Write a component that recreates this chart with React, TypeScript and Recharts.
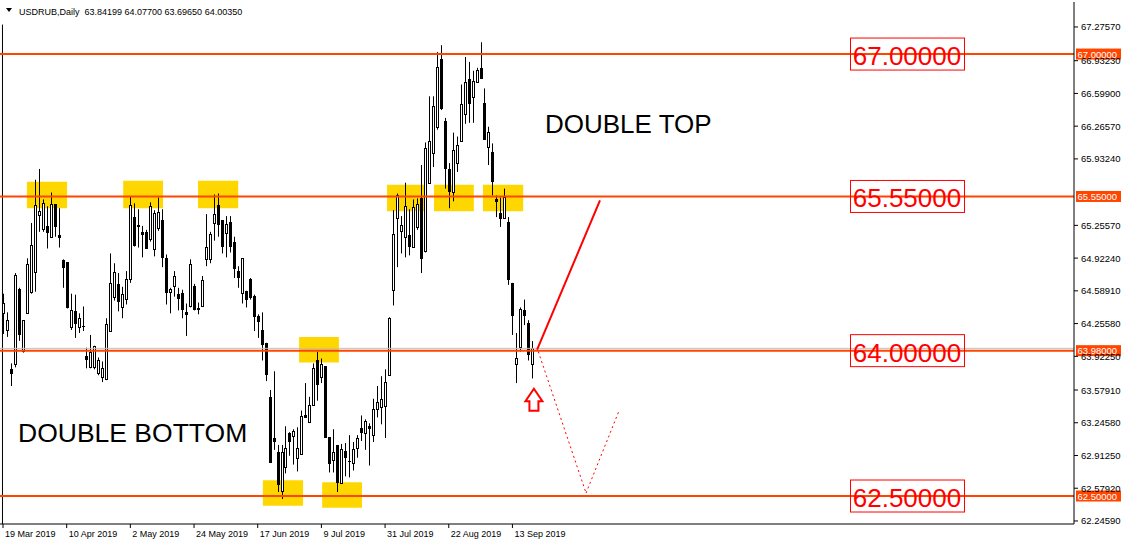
import React from 'react';
import { ComposedChart, Bar, XAxis, YAxis, ReferenceLine, ReferenceArea, ReferenceDot } from 'recharts';

// daily candles USDRUB
const opens = [
  64.36, 64.19, 63.79, 63.84, 64.61, 63.98, 64.36, 64.58, 64.78, 65.36,
  65.22, 65.25, 65.14, 65.47, 65.16, 64.90, 64.88, 64.22, 64.38, 64.22,
  64.23, 63.93, 63.81, 63.81, 63.75, 63.71, 63.69, 64.18, 64.53, 64.66,
  64.42, 64.51, 64.71, 65.34, 65.26, 65.19, 65.19, 65.12, 65.01, 65.23,
  65.31, 64.92, 64.58, 64.64, 64.56, 64.57, 64.37, 64.43, 64.64, 64.41,
  64.43, 64.91, 64.91, 65.28, 65.46, 65.31, 65.18, 65.29, 65.09, 64.79,
  64.57, 64.59, 64.71, 64.54, 64.33, 64.19, 64.06, 63.51, 63.09, 62.95,
  62.55, 62.80, 63.14, 63.11, 62.89, 62.93, 63.32, 63.25, 63.43, 63.88,
  63.71, 63.82, 63.10, 62.87, 63.02, 62.63, 62.96, 62.86, 62.84, 62.99,
  63.19, 63.14, 63.21, 63.12, 63.39, 63.41, 63.42, 63.73, 64.60, 65.33,
  65.20, 65.14, 65.16, 65.04, 65.24, 65.53, 64.99, 65.69, 65.99, 66.26,
  66.95, 66.32, 65.83, 65.60, 65.89, 66.11, 66.39, 66.75, 66.56, 66.72,
  66.86, 66.50, 66.05, 66.00, 65.52, 65.38, 65.33, 65.29, 64.67, 63.84,
  64.02, 64.39, 64.26, 63.842,
];
const highs = [
  64.56, 64.37, 63.85, 64.77, 64.62, 64.29, 64.92, 65.28, 65.72, 65.83,
  65.52, 65.45, 65.59, 65.47, 65.43, 64.91, 64.88, 64.56, 64.55, 64.36,
  64.43, 64.01, 64.14, 64.03, 63.91, 63.87, 64.31, 64.97, 64.87, 64.77,
  64.63, 64.79, 65.55, 65.48, 65.42, 65.25, 65.21, 65.49, 65.41, 65.54,
  65.42, 64.96, 64.62, 64.79, 64.62, 64.60, 64.46, 64.91, 64.66, 64.47,
  64.74, 65.37, 65.19, 65.57, 65.58, 65.31, 65.35, 65.35, 65.14, 64.84,
  64.92, 64.59, 64.72, 64.55, 64.35, 64.37, 64.06, 63.58, 63.77, 63.02,
  63.02, 63.21, 63.15, 63.18, 63.20, 63.37, 63.65, 63.51, 63.85, 63.97,
  63.90, 63.82, 63.10, 63.18, 63.02, 63.03, 63.04, 63.12, 63.05, 63.12,
  63.32, 63.28, 63.24, 63.49, 63.62, 63.72, 63.79, 64.32, 65.41, 65.58,
  65.35, 65.69, 65.42, 65.52, 65.53, 65.87, 66.10, 66.57, 66.57, 67.02,
  67.09, 66.35, 65.89, 66.20, 66.16, 66.69, 66.97, 66.92, 66.83, 66.86,
  67.12, 66.65, 66.26, 66.09, 65.56, 65.54, 65.63, 65.34, 64.67, 64.16,
  64.42, 64.50, 64.29, 64.077,
];
const lows = [
  64.15, 64.12, 63.62, 63.81, 64.08, 63.96, 64.36, 64.56, 64.58, 65.19,
  65.19, 65.02, 65.13, 65.14, 65.03, 64.62, 64.41, 64.19, 64.11, 64.16,
  64.18, 63.80, 63.80, 63.79, 63.73, 63.66, 63.68, 64.18, 64.49, 64.38,
  64.31, 64.45, 64.67, 65.04, 65.03, 64.93, 65.02, 65.09, 64.94, 65.20,
  64.83, 64.45, 64.36, 64.53, 64.39, 64.31, 64.13, 64.42, 64.39, 64.35,
  64.43, 64.84, 64.87, 65.10, 65.14, 64.97, 64.93, 64.98, 64.72, 64.62,
  64.46, 64.42, 64.50, 64.18, 64.11, 63.88, 63.67, 62.84, 62.97, 62.54,
  62.47, 62.73, 62.91, 62.82, 62.75, 62.93, 63.30, 63.25, 63.43, 63.47,
  63.65, 63.10, 62.74, 62.74, 62.54, 62.63, 62.70, 62.69, 62.76, 62.89,
  63.06, 62.97, 62.81, 63.05, 63.30, 63.23, 63.09, 63.73, 64.44, 64.83,
  64.97, 64.93, 64.95, 65.03, 65.21, 64.77, 64.98, 65.69, 65.85, 66.23,
  66.43, 65.63, 65.43, 65.50, 65.80, 66.11, 66.29, 66.30, 66.30, 66.72,
  66.76, 66.14, 65.87, 65.56, 65.34, 65.24, 65.33, 64.65, 64.14, 63.65,
  63.97, 64.24, 63.88, 63.697,
];
const closes = [
  64.47, 64.29, 63.75, 64.75, 64.15, 64.29, 64.86, 65.06, 65.46, 65.40,
  65.48, 65.19, 65.47, 65.25, 65.14, 64.83, 64.42, 64.39, 64.26, 64.31,
  64.23, 63.89, 63.97, 64.03, 63.88, 63.80, 64.25, 64.67, 64.78, 64.49,
  64.56, 64.71, 65.46, 65.06, 65.25, 65.17, 65.03, 65.45, 65.38, 65.39,
  64.93, 64.58, 64.61, 64.74, 64.52, 64.40, 64.35, 64.86, 64.40, 64.40,
  64.70, 65.04, 65.17, 65.37, 65.27, 65.05, 65.27, 65.05, 64.82, 64.73,
  64.92, 64.51, 64.53, 64.33, 64.28, 64.05, 63.74, 62.85, 63.06, 62.62,
  62.95, 62.99, 63.06, 63.16, 62.99, 63.31, 63.30, 63.43, 63.80, 63.64,
  63.84, 63.10, 62.84, 62.95, 62.64, 62.98, 62.90, 62.86, 62.98, 63.09,
  63.15, 63.26, 63.19, 63.39, 63.46, 63.49, 63.66, 64.31, 65.17, 65.56,
  65.26, 65.45, 65.05, 65.44, 65.47, 64.92, 66.04, 66.11, 66.47, 66.87,
  66.45, 65.84, 65.61, 66.02, 66.07, 66.49, 66.72, 66.50, 66.73, 66.84,
  66.76, 66.14, 66.21, 65.71, 65.50, 65.33, 65.54, 64.71, 64.34, 63.91,
  64.40, 64.34, 63.95, 64.0035,
];

const dateTicks = [0, 16, 32, 48, 64, 80, 96, 112, 128];
const dateLabels = ['19 Mar 2019', '10 Apr 2019', '2 May 2019', '24 May 2019', '17 Jun 2019', '9 Jul 2019', '31 Jul 2019', '22 Aug 2019', '13 Sep 2019'];
const priceTicks = [67.2757, 66.9323, 66.599, 66.2657, 65.9324, 65.2557, 64.9224, 64.5891, 64.2558, 63.9225, 63.5791, 63.2458, 62.9125, 62.5792, 62.2459];

// horizontal levels: line value, axis tag, big label
const levels = [
  { y: 67.0, tag: '67.00000', big: '67.00000' },
  { y: 65.55, tag: '65.55000', big: '65.55000' },
  { y: 63.98, tag: '63.98000', big: '64.00000' },
  { y: 62.5, tag: '62.50000', big: '62.50000' },
];

// highlighted zones [x1, x2, y1, y2]
const zones = [
  [6.0, 16.1, 65.43, 65.70],
  [30.2, 40.2, 65.43, 65.71],
  [49.0, 59.1, 65.43, 65.71],
  [96.5, 106.5, 65.40, 65.67],
  [108.3, 118.3, 65.40, 65.67],
  [120.6, 130.7, 65.40, 65.67],
  [74.4, 84.4, 63.86, 64.12],
  [65.3, 75.4, 62.40, 62.66],
  [80.2, 90.2, 62.38, 62.64],
];

const trendUp = [{ x: 134.2, y: 63.99 }, { x: 150, y: 65.51 }];
const pathDown = [{ x: 134.5, y: 63.97 }, { x: 146.5, y: 62.53 }, { x: 154.9, y: 63.38 }];

const data = opens.map((o, i) => ({ i, o, h: highs[i], l: lows[i], c: closes[i], range: [lows[i], highs[i]] }));

const FONT = '"Liberation Sans", Arial, sans-serif';

const Candle = (props: any) => {
  const { x, y, width, height, payload } = props;
  if (!payload || height == null) return <g />;
  const { o, h, l, c } = payload;
  const k = h > l ? height / (h - l) : 0;
  const py = (p: number) => y + (h - p) * k;
  const cx = Math.round(x + width / 2);
  const top = Math.round(py(Math.max(o, c)));
  const bot = Math.round(py(Math.min(o, c)));
  const up = c >= o;
  return (
    <g>
      <line x1={cx + 0.5} x2={cx + 0.5} y1={y} y2={y + height} stroke="#000" strokeWidth={1} />
      {bot - top < 1 ? (
        <line x1={cx - 1} x2={cx + 2} y1={top + 0.5} y2={top + 0.5} stroke="#000" strokeWidth={1} />
      ) : (
        <rect x={cx - 0.5} y={top + 0.5} width={2} height={bot - top} fill={up ? '#fff' : '#000'} stroke="#000" strokeWidth={1} />
      )}
    </g>
  );
};

const DateTick = (props: any) => {
  const { x, y, payload } = props;
  const idx = dateTicks.indexOf(payload.value);
  return (
    <text x={x + 2} y={y} dy="0.72em" textAnchor="start" fontSize={9} fontFamily={FONT} fill="#000">
      {dateLabels[idx]}
    </text>
  );
};

const PriceTick = (props: any) => {
  const { x, y, payload } = props;
  return (
    <text x={x} y={y} dy={3.5} textAnchor="start" fontSize={9.5} fontFamily={FONT} fill="#000">
      {Number(payload.value).toFixed(5)}
    </text>
  );
};

const LevelLabel = (props: any) => {
  const { viewBox, tag, big } = props;
  if (!viewBox) return null;
  const ly = viewBox.y;
  const right = viewBox.x + viewBox.width;
  return (
    <g>
      <rect x={850.5} y={ly - 16} width={114} height={32} fill="none" stroke="#ff0000" strokeWidth={1} />
      <text x={907} y={ly + 11} textAnchor="middle" fontSize={26} fontFamily={FONT} fill="#ff0000">{big}</text>
      <rect x={right + 2} y={ly - 5.5} width={45} height={11} fill="#ff4500" />
      <text x={right + 3.5} y={ly + 3.5} fontSize={9.5} fontFamily={FONT} fill="#fff">{tag}</text>
    </g>
  );
};

const UpArrow = (props: any) => {
  const { cx, cy } = props;
  const pts = [[0, -11], [8.5, 1.5], [4.5, 1.5], [4.5, 11], [-4.5, 11], [-4.5, 1.5], [-8.5, 1.5]]
    .map(([dx, dy]) => `${cx + dx},${cy + dy}`).join(' ');
  return <polygon points={pts} fill="#fff" stroke="#ff0000" strokeWidth={2} strokeLinejoin="miter" />;
};

export default function App() {
  return (
    <div style={{ position: 'absolute', left: 0, top: 0, width: 1125, height: 546, background: '#fff' }}>
      <ComposedChart width={1125} height={546} data={data} margin={{ top: 2, right: 0, left: 0, bottom: 0 }}>
        <XAxis
          dataKey="i"
          type="number"
          domain={[-0.754, 269.1]}
          allowDataOverflow
          ticks={dateTicks}
          interval={0}
          tick={<DateTick />}
          tickSize={4}
          tickMargin={3}
          height={22}
          stroke="#000"
        />
        <YAxis
          orientation="right"
          type="number"
          domain={[62.215, 67.53]}
          allowDataOverflow
          ticks={priceTicks}
          interval={0}
          tick={<PriceTick />}
          tickSize={4}
          tickMargin={3}
          width={51}
          stroke="#000"
        />
        {zones.map(([x1, x2, y1, y2], k) => (
          <ReferenceArea key={`z${k}`} x1={x1} x2={x2} y1={y1} y2={y2} fill="#ffd700" fillOpacity={1} stroke="none" />
        ))}
        <ReferenceLine segment={[{ x: -0.13, y: 62.215 }, { x: -0.13, y: 67.3 }]} stroke="#000" strokeWidth={1} />
        <ReferenceLine y={64.0035} stroke="#c0c0c0" strokeWidth={1} />
        {levels.map((lv) => (
          <ReferenceLine key={lv.tag} y={lv.y} stroke="#ff4500" strokeWidth={2} label={<LevelLabel tag={lv.tag} big={lv.big} />} />
        ))}
        <Bar dataKey="range" shape={<Candle />} isAnimationActive={false} />
        <ReferenceLine segment={trendUp} stroke="#ff0000" strokeWidth={2} />
        <ReferenceLine segment={[pathDown[0], pathDown[1]]} stroke="#ff0000" strokeWidth={1} strokeDasharray="2 3" />
        <ReferenceLine segment={[pathDown[1], pathDown[2]]} stroke="#ff0000" strokeWidth={1} strokeDasharray="2 3" />
        <ReferenceDot x={133.4} y={63.48} r={10} shape={<UpArrow />} />
      </ComposedChart>
      <svg width={1125} height={546} style={{ position: 'absolute', left: 0, top: 0, pointerEvents: 'none' }}>
        <polygon points="6,8 12,8 9,12" fill="#000" />
        <text x={19} y={15} fontSize={9} fontFamily={FONT} fill="#000" style={{ whiteSpace: 'pre' }}>
          {'USDRUB,Daily  63.84199 64.07700 63.69650 64.00350'}
        </text>
        <text x={545} y={133} fontSize={26} fontFamily={FONT} fill="#000">DOUBLE TOP</text>
        <text x={18} y={442} fontSize={26.5} fontFamily={FONT} fill="#000">DOUBLE BOTTOM</text>
      </svg>
    </div>
  );
}
